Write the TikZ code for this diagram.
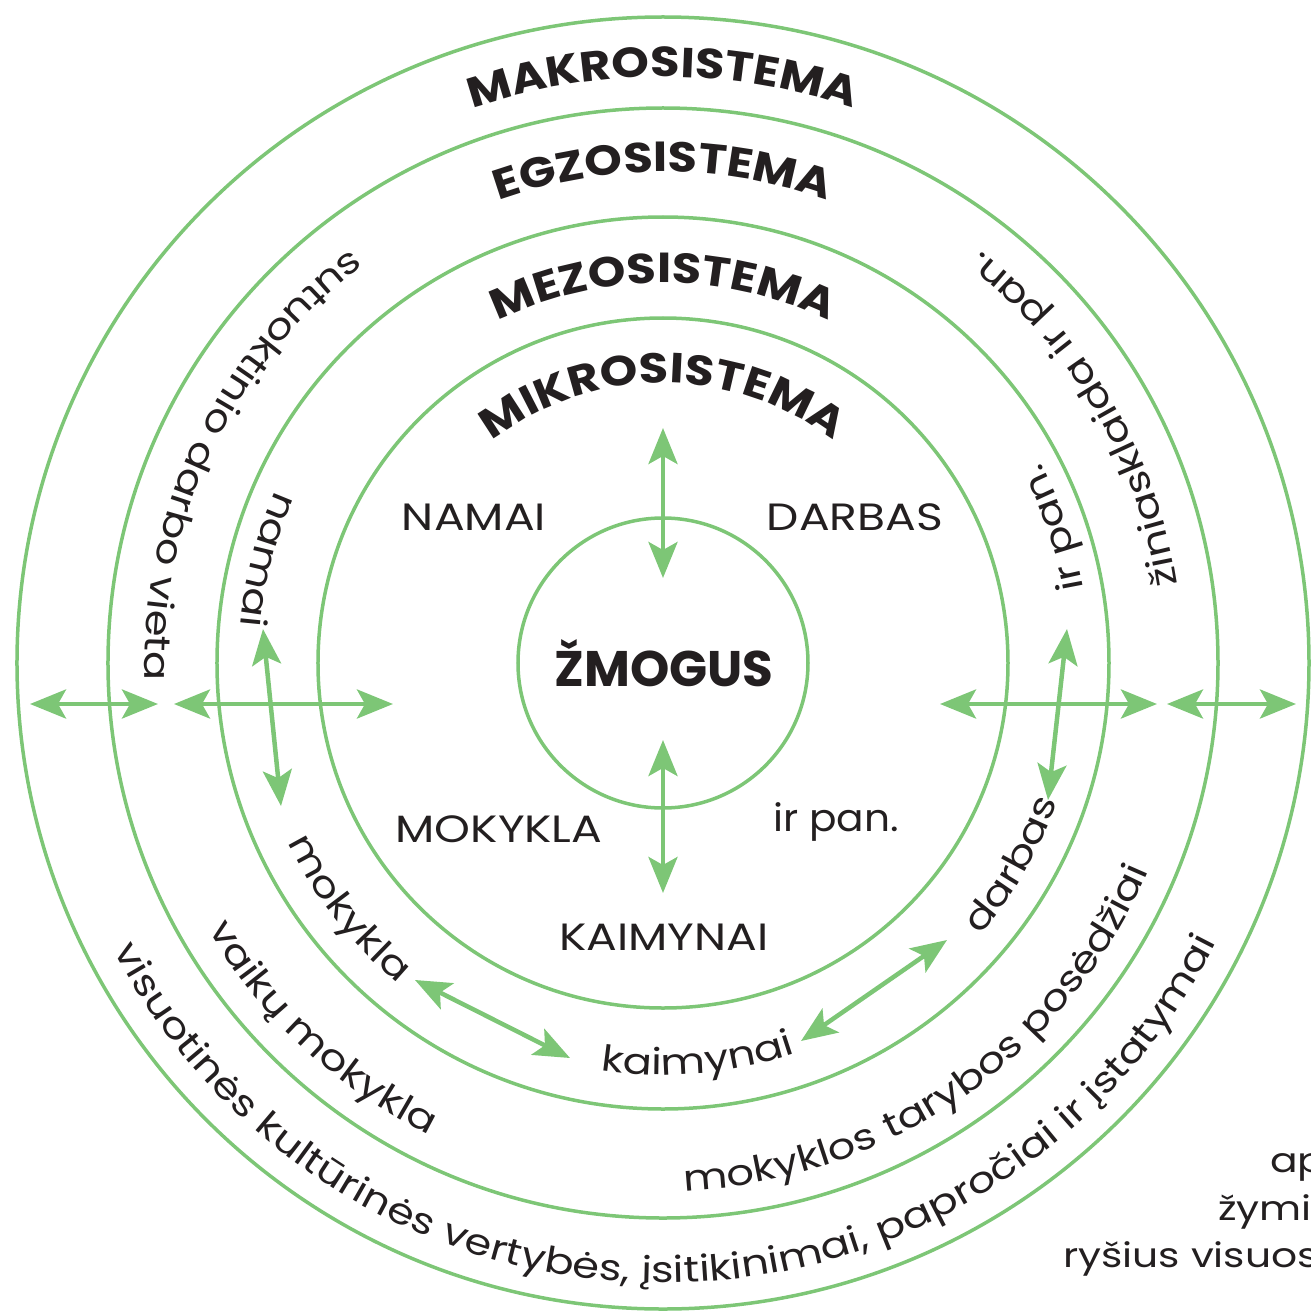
\documentclass[tikz,border=0pt]{standalone}
\usepackage{fontspec}
\setmainfont{Poppins}[FakeStretch=1.2]
\newfontfamily\headfam{Poppins}[FakeStretch=1.14]
\newfontfamily\corefam{Poppins}
\newfontfamily\narrowfam{Poppins}[FakeStretch=1.07]
\usetikzlibrary{decorations.text,arrows.meta}
\definecolor{grn}{RGB}{125,198,118}
\definecolor{txt}{RGB}{35,31,32}
\newcommand\headfnt{\headfam\fontsize{42}{48}\selectfont\bfseries\color{txt}}
\newcommand\ringfnt{\fontsize{36}{42}\selectfont\color{txt}}
\begin{document}
\begin{tikzpicture}[x=1pt,y=1pt,
  ring/.style={draw=grn,line width=3.5pt,circle,inner sep=0pt},
  link/.style={draw=grn,line width=4.5pt,
    {Stealth[length=36pt,width=29pt,inset=8pt]}-{Stealth[length=36pt,width=29pt,inset=8pt]}},
  lbl/.style={text=txt,font=\fontsize{38}{44}\selectfont,inner sep=0pt,anchor=base},
  note/.style={text=txt,font=\fontsize{34}{40}\selectfont,inner sep=0pt,anchor=base west},
]
\useasboundingbox (-663,-647) rectangle (648,663);
\clip (-663,-647) rectangle (648,663);

% circles
\node[ring,minimum size=1292pt] (makro) at (0,0) {};
\node[ring,minimum size=1110pt] (egzo) at (0,0) {};
\node[ring,minimum size=892pt] (mezo) at (0,0) {};
\node[ring,minimum size=690pt] (mikro) at (0,0) {};
\node[ring,minimum size=290pt] (core) at (0,0) {};

% headings
\path[decorate,decoration={text along path,text align=center,text={|\headfnt|MAKROSISTEMA}}]
  (150:586) arc[start angle=150,end angle=30,radius=586];
\path[decorate,decoration={text along path,text align=center,text={|\headfnt|EGZOSISTEMA}}]
  (150:491) arc[start angle=150,end angle=30,radius=491];
\path[decorate,decoration={text along path,text align=center,text={|\headfnt|MEZOSISTEMA}}]
  (160:380) arc[start angle=160,end angle=20,radius=380];
\path[decorate,decoration={text along path,text align=center,text={|\headfnt|MIKROSISTEMA}}]
  (170:280) arc[start angle=170,end angle=10,radius=280];

% ring texts (counterclockwise, tops toward the centre)
\path[decorate,decoration={text along path,text align=center,text={|\ringfnt|sutuoktinio darbo vieta}}]
  (99.5:518) arc[start angle=99.5,end angle=209.5,radius=518];
\path[decorate,decoration={text along path,text align=center,text={|\ringfnt|žiniasklaida ir pan.}}]
  (-19.5:520) arc[start angle=-19.5,end angle=80.5,radius=520];
\path[decorate,decoration={text along path,text align=center,text={|\ringfnt|vaikų mokykla}}]
  (187:527) arc[start angle=187,end angle=267,radius=527];
\path[decorate,decoration={text along path,text align=center,text={|\ringfnt|mokyklos tarybos posėdžiai}}]
  (244.6:528) arc[start angle=244.6,end angle=364.6,radius=528];
\path[decorate,decoration={text along path,text align=center,text={|\ringfnt|visuotinės kultūrinės vertybės{,} įsitikinimai{,} papročiai ir įstatymai}}]
  (180.4:620) arc[start angle=180.4,end angle=360.4,radius=620];

\path[decorate,decoration={text along path,text align=center,text={|\ringfnt|namai}}]
  (130.5:424) arc[start angle=130.5,end angle=200.5,radius=424];
\path[decorate,decoration={text along path,text align=center,text={|\ringfnt|ir pan.}}]
  (-16:427) arc[start angle=-16,end angle=54,radius=427];
\path[decorate,decoration={text along path,text align=center,text={|\ringfnt|mokykla}}]
  (183:416) arc[start angle=183,end angle=253,radius=416];
\path[decorate,decoration={text along path,text align=center,text={|\ringfnt|kaimynai}}]
  (240:412) arc[start angle=240,end angle=310,radius=412];
\path[decorate,decoration={text along path,text align=center,text={|\ringfnt|darbas}}]
  (295:418) arc[start angle=295,end angle=365,radius=418];

% inner labels
\node[lbl] (namaiL) at (-189,133) {NAMAI};
\node[lbl] (darbasL) at (192,133) {DARBAS};
\node[lbl] (mokyklaL) at (-164,-179) {MOKYKLA};
\node[lbl,font=\narrowfam\fontsize{38}{44}\selectfont] (irpanL) at (173,-168) {ir pan.};
\node[lbl] (kaimynaiL) at (1,-287) {KAIMYNAI};
\node[text=txt,font=\corefam\fontsize{50}{56}\selectfont\bfseries,inner sep=0pt,anchor=base] (zmogus) at (1,-23) {ŽMOGUS};

% note at the lower right (cut by the edge)
\node[note] (n1) at (607,-509) {ap};
\node[note] (n2) at (555,-557) {žymi};
\node[note] (n3) at (400,-604) {ryšius visuos};

% arrow end points
\coordinate (t1) at (0,235);   \coordinate (t2) at (0,85);
\coordinate (b1) at (0,-77);   \coordinate (b2) at (0,-230);
\coordinate (l1) at (-633,-41); \coordinate (l2) at (-505,-41);
\coordinate (l3) at (-489,-41); \coordinate (l4) at (-270,-41);
\coordinate (lv1) at (-400,34); \coordinate (lv2) at (-382,-143);
\coordinate (r1) at (277,-41);  \coordinate (r2) at (494,-41);
\coordinate (r3) at (504,-41);  \coordinate (r4) at (633,-41);
\coordinate (rv1) at (404,34);  \coordinate (rv2) at (385,-137);
\coordinate (d1) at (-248,-317); \coordinate (d2) at (-93,-395);
\coordinate (e1) at (138,-378); \coordinate (e2) at (284,-277);

\draw[link] (t1) -- (t2);
\draw[link] (b1) -- (b2);
\draw[link] (l1) -- (l2);
\draw[link] (l3) -- (l4);
\draw[link] (lv1) -- (lv2);
\draw[link] (r1) -- (r2);
\draw[link] (r3) -- (r4);
\draw[link] (rv1) -- (rv2);
\draw[link] (d1) -- (d2);
\draw[link] (e1) -- (e2);
\end{tikzpicture}
\end{document}
